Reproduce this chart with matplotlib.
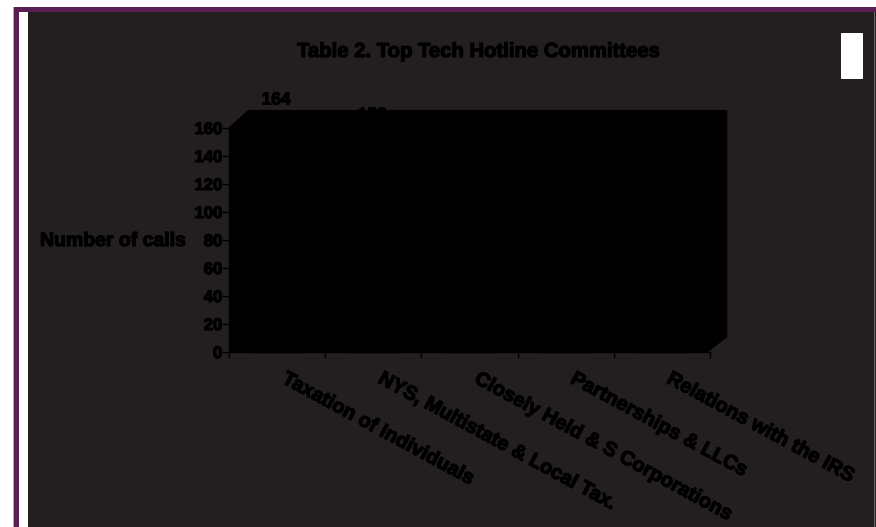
import matplotlib
matplotlib.use("Agg")
import matplotlib.pyplot as plt
import matplotlib.patheffects as pe
from matplotlib.patches import Rectangle, Polygon

# ---- data -------------------------------------------------------------
committees = [
    "Taxation of Individuals",
    "NYS, Multistate & Local Tax.",
    "Closely Held & S Corporations",
    "Partnerships & LLCs",
    "Relations with the IRS",
]
calls = [164, 153, 124, 98, 72]
y_ticks = [0, 20, 40, 60, 80, 100, 120, 140, 160]

title_text = "Table 2. Top Tech Hotline Committees"
y_title = "Number of calls"

# ---- styling ------------------------------------------------------------
W, H = 876, 527
BG = "#231f20"
PURPLE = "#5b1e54"
LAVENDER = "#bba5ba"
INK = "#000000"
FONT = ["Liberation Sans", "Arial", "DejaVu Sans"]
NARROW = ["Liberation Sans Narrow", "Liberation Sans", "DejaVu Sans"]
HEAVY = [pe.withStroke(linewidth=0.9, foreground=INK)]

plt.rcParams["font.family"] = FONT
plt.rcParams["font.weight"] = "bold"

fig = plt.figure(figsize=(W / 100, H / 100), dpi=100, facecolor="white")


def fx(px):
    return px / W


def fy(py):
    return 1 - py / H


# page frame: dark panel, purple rule on top and left, white gutter
fig.add_artist(Rectangle((fx(28), 0), 1 - fx(28), fy(12), transform=fig.transFigure,
                         facecolor=BG, edgecolor="none", zorder=0))
fig.add_artist(Rectangle((fx(14), fy(12)), 1 - fx(14), 5 / H, transform=fig.transFigure,
                         facecolor=PURPLE, edgecolor="none", zorder=0))
fig.add_artist(Rectangle((fx(14), 0), 5 / W, fy(7), transform=fig.transFigure,
                         facecolor=PURPLE, edgecolor="none", zorder=0))
fig.add_artist(Rectangle((fx(13), 0), 1 / W, fy(7), transform=fig.transFigure,
                         facecolor=LAVENDER, edgecolor="none", zorder=0))
fig.add_artist(Rectangle((fx(874), 0), 1 / W, fy(12), transform=fig.transFigure,
                         facecolor="#6e6a6b", edgecolor="none", zorder=0))

# legend box (top right)
fig.add_artist(Rectangle((fx(841), fy(79)), 22 / W, 46 / H, transform=fig.transFigure,
                         facecolor="white", edgecolor="none", zorder=1))

# ---- axes ----------------------------------------------------------------
ax_left, ax_right, ax_bottom, ax_top = 229, 710, 352, 128
ax = fig.add_axes([fx(ax_left), fy(ax_bottom), fx(ax_right - ax_left), (ax_bottom - ax_top) / H])
ax.set_facecolor("none")
n = len(committees)
ax.set_xlim(0, n)
ax.set_ylim(y_ticks[0], y_ticks[-1])

# 3-D style walls of the plot area
depth_x = 0.2     # category units
depth_y = 12.2    # value units
front_top = y_ticks[-1] + 0.7
wall = Polygon(
    [(0, 0), (0, front_top), (depth_x, front_top + depth_y),
     (n + depth_x - 0.02, front_top + depth_y), (n + depth_x - 0.02, depth_y - 1.5),
     (n - 0.02, 0)],
    closed=True, facecolor="black", edgecolor="none", clip_on=False, zorder=1)
ax.add_patch(wall)

centers = [i + 0.5 for i in range(n)]
ax.bar(centers, calls, width=0.55, color="black", edgecolor="black",
       clip_on=False, zorder=2)

for c, v in zip(centers, calls):
    ax.annotate(str(v), (c, v), xytext=(-1, 15), textcoords="offset pixels",
                ha="center", va="bottom", fontsize=12.5, color=INK,
                family=NARROW, fontweight="bold", annotation_clip=False, zorder=5,
                path_effects=HEAVY)

# axes lines and ticks
for side in ("top", "right"):
    ax.spines[side].set_visible(False)
for side in ("left", "bottom"):
    ax.spines[side].set_color("black")
    ax.spines[side].set_linewidth(1)
    ax.spines[side].set_zorder(3)

ax.set_yticks(y_ticks)
ax.set_yticklabels([str(t) for t in y_ticks], fontsize=12, fontweight="bold",
                   color=INK, family=NARROW)
for lbl in ax.get_yticklabels():
    lbl.set_path_effects(HEAVY)
ax.tick_params(axis="y", length=5, width=1, color="black", pad=0, direction="out")
ax.set_xticks(range(n + 1))
ax.set_xticklabels([])
ax.tick_params(axis="x", length=4.5, width=1, color="black", direction="out")

# slanted category labels
for c, name in zip(centers, committees):
    ax.annotate(name, (c, fy(369)), xycoords=("data", "figure fraction"),
                xytext=(11, 0), textcoords="offset pixels",
                ha="left", va="top", rotation=-28.5, rotation_mode="anchor",
                fontsize=14.4, fontweight="bold", color=INK, annotation_clip=False,
                path_effects=HEAVY)

# titles
fig.text(fx(478), fy(57), title_text, ha="center", va="baseline",
         fontsize=14.6, fontweight="bold", color=INK, path_effects=HEAVY)
fig.text(fx(40), fy(246), y_title, ha="left", va="baseline",
         fontsize=14, fontweight="bold", color=INK, path_effects=HEAVY)

fig.savefig("out.png", dpi=100, facecolor=fig.get_facecolor())
